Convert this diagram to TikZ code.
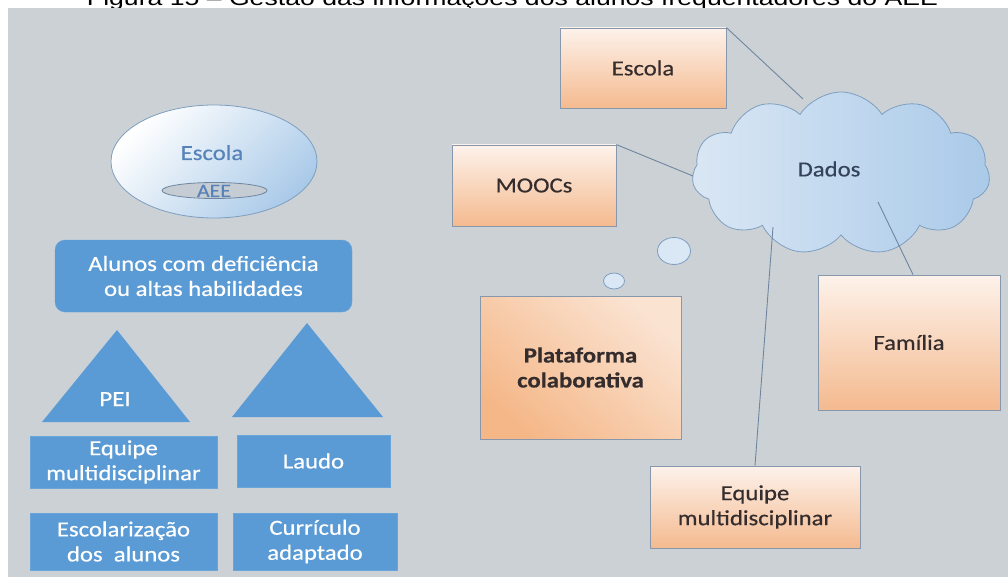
\documentclass[tikz,border=0pt]{standalone}
\usepackage{fontspec}
\setmainfont{Carlito}[FakeStretch=1.15,FakeBold=0.5]
\newfontfamily\titlefont{Liberation Sans}[FakeStretch=1.25]
\usetikzlibrary{shapes.symbols,shapes.geometric}

\definecolor{bg}{HTML}{CCD1D5}
\definecolor{bluefill}{HTML}{5B9BD5}
\definecolor{blueedge}{HTML}{6AA5DA}
\definecolor{peachlight}{HTML}{FDF2EB}
\definecolor{peach}{HTML}{F4BA8F}
\definecolor{boxedge}{HTML}{8798AC}
\definecolor{inktext}{HTML}{352D2D}
\definecolor{linkline}{HTML}{6E86A0}
\definecolor{steel}{HTML}{5683B8}
\definecolor{cloudL}{HTML}{DAE7F4}
\definecolor{cloudR}{HTML}{AACAE9}
\definecolor{cloudedge}{HTML}{7E9EC0}
\definecolor{ovalgrey}{HTML}{C6CCD3}
\definecolor{cloudink}{HTML}{34435A}

\tikzset{
  txt/.style={font=\fontsize{21.5}{25}\selectfont},
  bluebox/.style={draw=blueedge, fill=bluefill, text=white, align=center,
                  inner sep=0pt, txt},
  peachbox/.style={draw=boxedge, line width=0.8pt, top color=peachlight,
                   bottom color=peach, text=inktext, align=center,
                   inner sep=0pt, txt},
  link/.style={draw=linkline, line width=0.9pt},
  bubble/.style={ellipse, draw=cloudedge, fill=cloudL, line width=0.8pt,
                 inner sep=0pt},
}

\begin{document}
\begin{tikzpicture}[x=1pt,y=-1pt]
\useasboundingbox (0,0) rectangle (1008,577);

% caption line above the panel
\node[anchor=base, inner sep=0pt, font=\titlefont\fontsize{21.3}{25}\selectfont]
  (title) at (512.5,5.5) {Figura 15 – Gestão das informações dos alunos frequentadores do AEE};

% grey panel
\fill[bg] (8,8) rectangle (1008,577);

% ---------- left column ----------
\node[ellipse, draw=cloudedge, line width=0.8pt, top color=white,
      bottom color=cloudR, shading angle=45, minimum width=206,
      minimum height=113, inner sep=0pt] (escola) at (214,161.5) {};
\node[txt, text=steel, anchor=base, inner sep=0pt] (escolat) at (212,160) {Escola};
\node[ellipse, draw=linkline, fill=ovalgrey, line width=0.8pt,
      minimum width=105, minimum height=16, inner sep=0pt] (aee) at (214.5,190.5) {};
\node[font=\fontsize{19}{22}\selectfont, text=steel, anchor=base, inner sep=0pt]
  (aeet) at (214,197) {AEE};

\node[bluebox, rounded corners=10pt, minimum width=297, minimum height=72]
  (alunos) at (203.5,276) {Alunos com deficiência\\ou altas habilidades};

\fill[bluefill] (42,422) -- (117,330) -- (190,422) -- cycle;
\fill[bluefill] (232,417) -- (307,323) -- (383,417) -- cycle;
\node[txt, text=white, anchor=base, inner sep=0pt] (pei) at (115,406) {PEI};

\node[bluebox, minimum width=187, minimum height=52] (eqL) at (123.5,462)
  {Equipe\\multidisciplinar};
\node[bluebox, minimum width=153, minimum height=52] (laudo) at (313.5,461)
  {Laudo};
\node[bluebox, minimum width=187, minimum height=57] (escol) at (123.5,541.5)
  {Escolarização\\dos~ alunos};
\node[bluebox, minimum width=164, minimum height=57] (curr) at (315,541.5)
  {Currículo\\adaptado};

% ---------- right column ----------
\node[cloud, cloud puffs=11, cloud puff arc=115, cloud ignores aspect,
      minimum width=298, minimum height=163, inner sep=0pt,
      draw=cloudedge, line width=0.8pt, left color=cloudL, right color=cloudR]
  (dados) at (841,173.5) {};
\node[txt, text=cloudink, inner sep=0pt] (dadost) at (829,169) {Dados};

\node[bubble, minimum width=33, minimum height=27] (bub1) at (674,251) {};
\node[bubble, minimum width=21, minimum height=16] (bub2) at (614,281) {};

\node[peachbox, minimum width=166, minimum height=80] (esc2) at (643,68) {Escola};
\node[peachbox, minimum width=164, minimum height=81] (mooc) at (534,185.5) {MOOCs};
\node[peachbox, top color=peach!40!white, bottom color=peach!95!orange, shading angle=-40,
      minimum width=201, minimum height=143, font=\bfseries\fontsize{21.5}{25}\selectfont]
  (plat) at (580.5,367.5) {Plataforma\\colaborativa};
\node[peachbox, minimum width=182, minimum height=135] (fam) at (909,342.5) {Família};
\node[peachbox, minimum width=210, minimum height=82] (eq2) at (755,507)
  {Equipe\\multidisciplinar};

% attachment points inside the cloud
\coordinate (cEsc)  at (803,99);
\coordinate (cMooc) at (693,176);
\coordinate (cEq)   at (773,227);
\coordinate (cFam)  at (878,202);

\draw[link] (esc2.north east) -- (cEsc);
\draw[link] (mooc.north east) -- (cMooc);
\draw[link] (eq2.north) -- (cEq);
\draw[link] ([xshift=4pt]fam.north) -- (cFam);
\end{tikzpicture}
\end{document}
